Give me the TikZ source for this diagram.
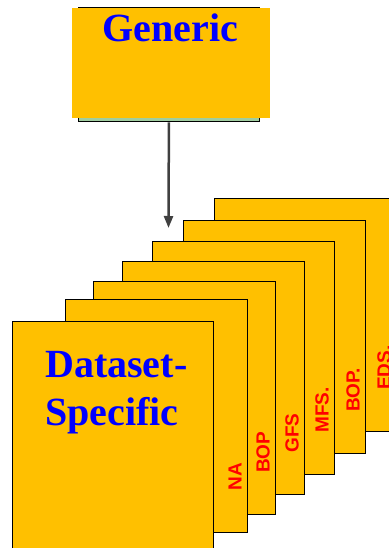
\documentclass[tikz,border=0pt]{standalone}
\usepackage{fontspec}
\setmainfont{Liberation Serif}
\setsansfont{Liberation Sans}
\usetikzlibrary{
    arrows.meta,
    positioning,
    calc
}
\definecolor{cardorange}{RGB}{255,192,0}
\definecolor{stripgreen}{RGB}{160,205,160}
\definecolor{titleblue}{RGB}{0,0,255}
\definecolor{tagred}{RGB}{255,0,0}
\definecolor{arrowgray}{RGB}{64,64,64}

\begin{document}
\begin{tikzpicture}[
    x=1pt, y=-1pt,
    card/.style={
        rectangle, draw=black, line width=1pt, fill=cardorange,
        inner sep=0pt, minimum width=182pt, minimum height=233pt,
        anchor=north west
    },
    title/.style={text=titleblue, inner sep=0pt,
        font=\bfseries\fontsize{40}{48}\selectfont},
    tag/.style={text=tagred, inner sep=0pt, rotate=90, anchor=west,
        font=\sffamily\bfseries\fontsize{19}{22}\selectfont},
    arrow/.style={-{Triangle[length=12pt, width=9pt]}, line width=2.5pt, arrowgray}
]
\useasboundingbox (0,0) rectangle (388,548);

% Generic block (y=7..122)
\node[rectangle, draw=black, line width=0.8pt, fill=stripgreen, inner sep=0pt,
      minimum width=181pt, minimum height=114.5pt, anchor=north west] (gback) at (78,7) {};
\node[rectangle, fill=cardorange, inner sep=0pt,
      minimum width=198pt, minimum height=110pt, anchor=north west] (gbox) at (72,8) {};
\node[title, anchor=base] (gtext) at (170.5,42) {Generic};

% Arrow down to the stack
\coordinate (tip) at (168.5,228);
\draw[arrow] (gback.south) -- (tip);

% Stack of cards, back to front
\foreach \i/\lx/\ty/\lab in {6/214/198/EDS., 5/183/220/BOP., 4/152/240.7/MFS.,
                             3/122/260.7/GFS, 2/93/281/BOP, 1/65/298.5/NA} {
    \node[card] (card\i) at (\lx,\ty) {};
    \node[tag] (tag\i) at ($(card\i.south east)+(-13,-42)$) {\lab};
}

% Front card
\node[card, minimum width=201pt] (front) at (12,320.7) {};
\node[title, align=left, anchor=north west] (dstext) at (45,351) {Dataset-\\Specific};

\end{tikzpicture}
\end{document}
